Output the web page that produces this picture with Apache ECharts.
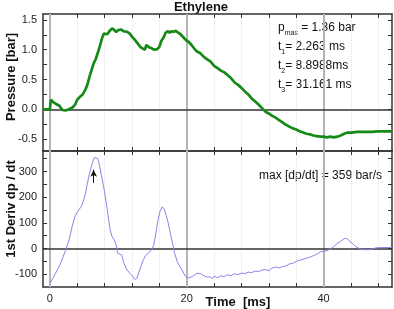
<!DOCTYPE html>
<html>
<head>
<meta charset="utf-8">
<script src="https://cdn.jsdelivr.net/npm/echarts@6/dist/echarts.min.js"></script>
<style>
  html, body { margin: 0; padding: 0; background: #fff; }
  #chart { width: 394px; height: 309px; }
</style>
</head>
<body>
<div id="chart"></div>
<script>
  // 压力曲线 (bar)
  var timeP = [-1, 0, 0.15, 0.5, 0.9, 1.4, 1.8, 2.3, 2.8, 3.3, 3.7, 4.0, 4.4, 4.8, 5.2, 5.5, 5.8, 6.1, 6.4, 6.7, 6.9, 7.1, 7.4, 7.7, 7.9, 8.1, 8.4, 8.7, 9.1, 9.4, 9.7, 10.0, 10.4, 10.8, 11.3, 11.7, 12.0, 12.4, 12.8, 13.2, 13.6, 13.9, 14.1, 14.3, 14.5, 14.8, 15.2, 15.7, 16.0, 16.3, 16.6, 16.9, 17.2, 17.5, 17.8, 18.1, 18.4, 18.7, 19.1, 19.5, 19.9, 20.3, 20.7, 21.1, 21.5, 22.0, 22.5, 23.0, 23.5, 24.0, 24.5, 25.0, 25.5, 26.0, 26.5, 27.0, 27.5, 28.0, 28.5, 29.0, 29.5, 30.0, 30.5, 31.0, 31.5, 32.0, 32.5, 33.0, 33.5, 34.0, 34.5, 35.0, 35.5, 36.0, 36.5, 37.0, 37.5, 38.0, 38.5, 39.0, 39.5, 40.0, 40.5, 41.0, 41.5, 42.0, 42.5, 43.0, 43.5, 44.0, 45.0, 46.0, 47.0, 48.0, 49.0, 50];
  var pressure = [0, 0, 0.16, 0.12, 0.09, 0.06, -0.01, -0.02, 0.0, 0.03, 0.08, 0.16, 0.21, 0.25, 0.33, 0.42, 0.55, 0.66, 0.77, 0.84, 0.87, 0.98, 1.1, 1.22, 1.27, 1.24, 1.26, 1.31, 1.36, 1.33, 1.30, 1.33, 1.34, 1.31, 1.30, 1.27, 1.22, 1.17, 1.11, 1.05, 1.02, 1.0, 1.08, 1.1, 1.04, 1.03, 1.0, 1.01, 1.05, 1.15, 1.2, 1.28, 1.31, 1.29, 1.31, 1.3, 1.32, 1.29, 1.26, 1.21, 1.16, 1.13, 1.08, 1.02, 0.97, 0.94, 0.88, 0.84, 0.80, 0.73, 0.69, 0.65, 0.62, 0.57, 0.52, 0.45, 0.41, 0.36, 0.30, 0.25, 0.18, 0.13, 0.08, 0.02, -0.04, -0.07, -0.11, -0.14, -0.18, -0.22, -0.26, -0.29, -0.32, -0.34, -0.37, -0.39, -0.41, -0.42, -0.44, -0.45, -0.46, -0.46, -0.47, -0.46, -0.47, -0.46, -0.44, -0.41, -0.39, -0.39, -0.38, -0.38, -0.38, -0.37, -0.37, -0.37];

  // 一阶导数 dp/dt
  var timeD = [0, 0.4, 0.8, 1.2, 1.55, 1.9, 2.3, 2.8, 3.25, 3.7, 4.2, 4.6, 4.9, 5.2, 5.5, 5.8, 6.2, 6.5, 6.7, 7.0, 7.2, 7.5, 7.9, 8.2, 8.5, 8.8, 9.1, 9.4, 9.7, 9.9, 10.2, 10.5, 10.8, 11.2, 11.7, 12.1, 12.4, 12.7, 13.0, 13.3, 13.7, 14.0, 14.5, 14.9, 15.2, 15.5, 15.8, 16.1, 16.4, 16.7, 17.0, 17.3, 17.6, 17.9, 18.2, 18.6, 19.0, 19.4, 19.8, 20.1, 20.5, 21.0, 21.5, 22.0, 22.5, 23.0, 23.4, 23.7, 24.0, 24.5, 25.0, 25.5, 26.0, 26.5, 27.0, 27.5, 28.0, 28.5, 29.0, 29.5, 30.0, 30.5, 31.0, 31.5, 32.0, 32.5, 33.0, 33.5, 34.0, 34.5, 35.0, 35.5, 36.0, 36.5, 37.0, 37.5, 38.0, 38.5, 39.0, 39.5, 40.0, 40.5, 41.0, 41.5, 42.0, 42.5, 43.0, 43.3, 43.7, 44.2, 44.7, 45.2, 45.8, 46.5, 47.0, 47.7, 48.5, 49.5, 50];
  var deriv = [-135, -118, -98, -78, -59, -35, -7, 33, 85, 128, 150, 163, 185, 215, 255, 295, 332, 355, 360, 350, 330, 290, 235, 185, 130, 75, 45, 35, 12, -18, -22, -25, -55, -80, -97, -108, -120, -117, -95, -70, -42, -27, -15, -5, 15, 60, 110, 145, 162, 155, 128, 100, 60, 25, -15, -50, -70, -88, -108, -115, -113, -106, -96, -98, -106, -112, -110, -118, -108, -114, -106, -110, -102, -106, -98, -102, -96, -98, -92, -94, -88, -90, -84, -82, -86, -76, -72, -76, -70, -68, -60, -58, -50, -46, -42, -38, -34, -28, -22, -14, -10, -8, -2, 8, 20, 28, 38, 40, 32, 20, 8, 0, -4, -5, -3, 3, 4, 4, 4];

  // 刻度
  var xTicks = [0, 4, 8, 12, 16, 20, 24, 28, 32, 36, 40, 44, 48];
  var xLabels = [0, 20, 40];
  var pTicks = [-0.5, -0.25, 0, 0.25, 0.5, 0.75, 1, 1.25, 1.5];
  var pLabels = [-0.5, 0, 0.5, 1, 1.5];
  var dTicks = [-100, -50, 0, 50, 100, 150, 200, 250, 300, 350];
  var dLabels = [-100, 0, 100, 200, 300];
  var majorLines = [0, 20, 40];
  var arrowFrom = [6.4, 255];
  var arrowTo = [6.4, 307];

  var FONT = "'Liberation Sans', Arial, sans-serif";

  function zip(xs, ys) {
    return xs.map(function (x, i) { return [x, ys[i]]; });
  }

  function xAxisOf(gridIndex, position, labels) {
    return {
      type: 'value', gridIndex: gridIndex, position: position, min: -1, max: 50,
      axisLine: { show: true, onZero: false, lineStyle: { color: '#333', width: 1.5 } },
      axisTick: { show: true, inside: true, length: 4, customValues: xTicks, lineStyle: { color: '#333' } },
      axisLabel: labels ? { show: true, customValues: xLabels, margin: 6, color: '#222', fontSize: 11, fontFamily: FONT } : { show: false },
      splitLine: position === 'bottom' ? { show: true, lineStyle: { color: '#e2e2e2', type: 'dotted', width: 1 } } : { show: false }
    };
  }

  function yAxisOf(gridIndex, position, min, max, ticks, labels, fmt) {
    return {
      type: 'value', gridIndex: gridIndex, position: position, min: min, max: max,
      axisLine: { show: true, onZero: false, lineStyle: { color: '#333', width: 1.5 } },
      axisTick: { show: true, inside: true, length: 4, customValues: ticks, lineStyle: { color: '#333' } },
      axisLabel: labels ? { show: true, customValues: labels, margin: 6, color: '#222', fontSize: 11, fontFamily: FONT, formatter: fmt } : { show: false },
      splitLine: { show: false }
    };
  }

  function gridLines() {
    var d = majorLines.map(function (v) {
      return { xAxis: v, lineStyle: { color: '#b4b4b4', width: 2, type: 'solid' } };
    });
    d.push({ yAxis: 0, lineStyle: { color: '#333', width: 1.5, type: 'solid' } });
    return d;
  }

  var myChart = echarts.init(document.getElementById('chart'), null, { renderer: 'canvas' });

  myChart.setOption({
    animation: false,
    backgroundColor: '#fff',
    grid: [
      { left: 43, top: 14, width: 349, height: 137 },
      { left: 43, top: 151, width: 349, height: 136 }
    ],
    xAxis: [
      xAxisOf(0, 'bottom', false),
      xAxisOf(0, 'top', false),
      xAxisOf(1, 'bottom', true),
      xAxisOf(1, 'top', false)
    ],
    yAxis: [
      yAxisOf(0, 'left', -0.7, 1.6, pTicks, pLabels, function (v) { return v.toFixed(1); }),
      yAxisOf(0, 'right', -0.7, 1.6, pTicks, null),
      yAxisOf(1, 'left', -150, 380, dTicks, dLabels, function (v) { return String(v); }),
      yAxisOf(1, 'right', -150, 380, dTicks, null)
    ],
    graphic: [
      { type: 'text', x: 201, y: 7, style: { text: 'Ethylene', font: 'bold 13px ' + FONT, fill: '#111', align: 'center', verticalAlign: 'middle' } },
      { type: 'text', x: 238, y: 302, style: { text: 'Time  [ms]', font: 'bold 13px ' + FONT, fill: '#111', align: 'center', verticalAlign: 'middle' } },
      { type: 'text', x: 11, y: 77, rotation: Math.PI / 2, style: { text: 'Pressure [bar]', font: 'bold 13px ' + FONT, fill: '#111', align: 'center', verticalAlign: 'middle' } },
      { type: 'text', x: 11, y: 209, rotation: Math.PI / 2, style: { text: '1st Deriv dp / dt', font: 'bold 13px ' + FONT, fill: '#111', align: 'center', verticalAlign: 'middle' } },
      {
        type: 'text', x: 278, y: 18,
        style: {
          text: '{n|p}{s|max}{n| = 1.36 bar}\n{n|t}{s|1}{n|= 2.263 ms}\n{n|t}{s|2}{n|= 8.8988ms}\n{n|t}{s|3}{n|= 31.161 ms}',
          fill: '#111', align: 'left', verticalAlign: 'top',
          rich: {
            n: { fontSize: 12, fontFamily: FONT, fill: '#111', lineHeight: 19 },
            s: { fontSize: 7, fontFamily: FONT, fill: '#111', lineHeight: 7, verticalAlign: 'bottom' }
          }
        }
      },
      { type: 'text', x: 259, y: 176, style: { text: 'max [dp/dt] = 359 bar/s', font: '12px ' + FONT, fill: '#111', align: 'left', verticalAlign: 'middle' } }
    ],
    series: [
      {
        name: 'Pressure', type: 'line', xAxisIndex: 0, yAxisIndex: 0,
        showSymbol: false, symbol: 'none', z: 3,
        lineStyle: { color: '#168a16', width: 2.7 },
        data: zip(timeP, pressure),
        markLine: { silent: true, z: 1, symbol: ['none', 'none'], label: { show: false }, data: gridLines() }
      },
      {
        name: 'dp/dt', type: 'line', xAxisIndex: 2, yAxisIndex: 2,
        showSymbol: false, symbol: 'none', z: 3,
        lineStyle: { color: '#8585ea', width: 1 },
        data: zip(timeD, deriv),
        markLine: {
          silent: true, z: 1, symbol: ['none', 'none'], label: { show: false },
          data: gridLines().concat([[
            { coord: arrowFrom, symbol: 'none', lineStyle: { color: '#111', width: 1, type: 'solid' } },
            { coord: arrowTo, symbol: 'arrow', symbolSize: [5, 7], lineStyle: { color: '#111', width: 1, type: 'solid' } }
          ]])
        }
      }
    ]
  });
  window.addEventListener('resize', function () { myChart.resize(); });
</script>
</body>
</html>
